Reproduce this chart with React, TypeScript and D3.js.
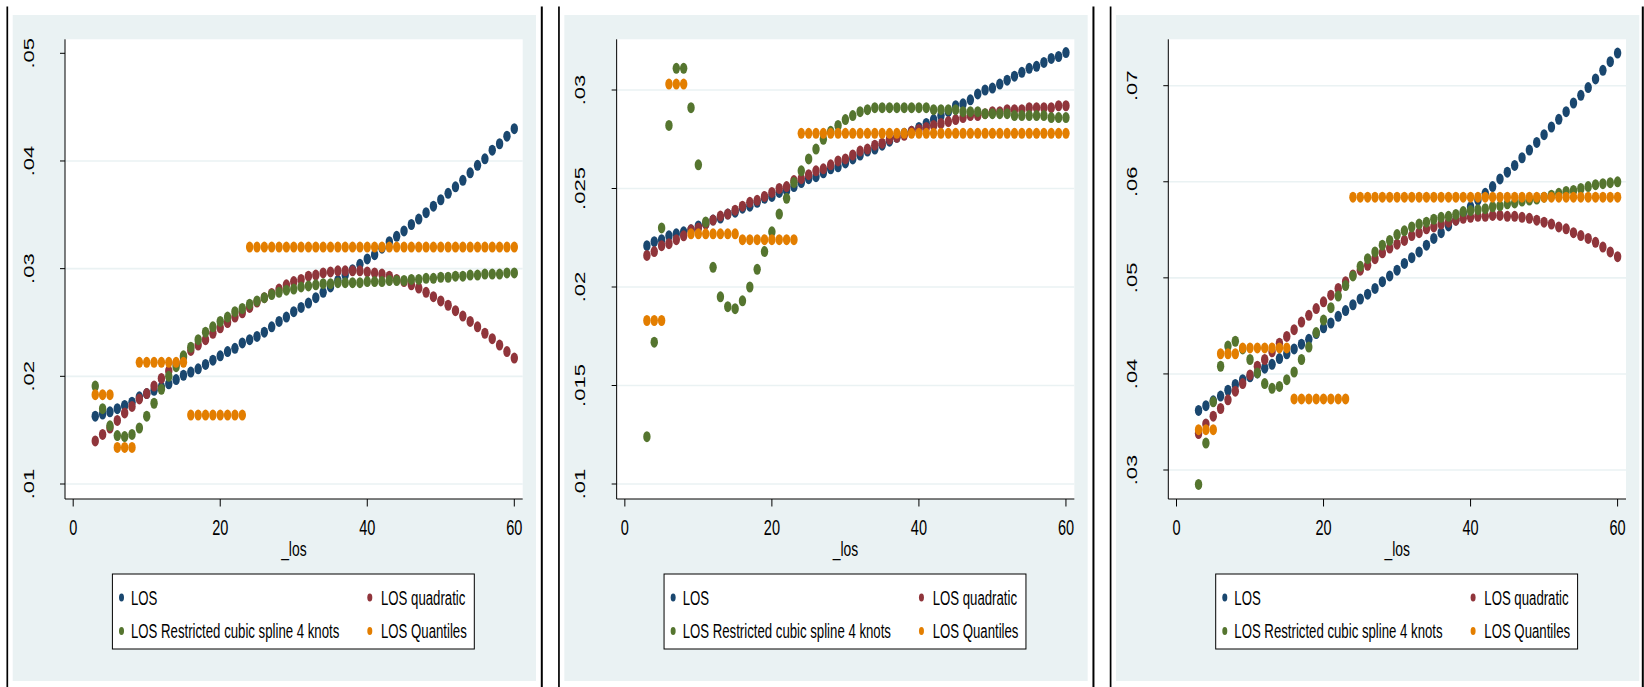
import React from "react";
import * as d3 from "d3";

// length of stay (days) on the x axis
const days = [
  3, 4, 5, 6, 7, 8, 9, 10, 11, 12, 13, 14, 15, 16, 17, 18, 19, 20, 21, 22, 23, 24, 25, 26, 27, 28, 29, 30, 31,
  32, 33, 34, 35, 36, 37, 38, 39, 40, 41, 42, 43, 44, 45, 46, 47, 48, 49, 50, 51, 52, 53, 54, 55, 56, 57, 58,
  59, 60,
];

// panel 1
const losP1 = [
  0.0163, 0.0165, 0.0167, 0.017, 0.0173, 0.0176, 0.0181, 0.0184, 0.0187, 0.019, 0.0193, 0.0197, 0.0201, 0.0204,
  0.0207, 0.0211, 0.0215, 0.0219, 0.0223, 0.0226, 0.0231, 0.0234, 0.0237, 0.0241, 0.0246, 0.0251, 0.0255, 0.026,
  0.0264, 0.0268, 0.0273, 0.0278, 0.0283, 0.0289, 0.0294, 0.0299, 0.0304, 0.0309, 0.0313, 0.0319, 0.0325, 0.033,
  0.0335, 0.0341, 0.0346, 0.0352, 0.0358, 0.0364, 0.037, 0.0376, 0.0382, 0.0389, 0.0396, 0.0402, 0.041, 0.0416,
  0.0423, 0.043,
];
const quadP1 = [
  0.014, 0.0146, 0.0152, 0.0159, 0.0166, 0.0172, 0.0179, 0.0184, 0.0191, 0.0198, 0.0205, 0.0212, 0.0218, 0.0224,
  0.0229, 0.0234, 0.024, 0.0245, 0.025, 0.0255, 0.0259, 0.0264, 0.0269, 0.0273, 0.0277, 0.0281, 0.0285, 0.0288,
  0.029, 0.0293, 0.0294, 0.0296, 0.0297, 0.0298, 0.0298, 0.0298, 0.0298, 0.0297, 0.0296, 0.0295, 0.0293, 0.029,
  0.0288, 0.0285, 0.0282, 0.0278, 0.0274, 0.027, 0.0266, 0.0261, 0.0256, 0.0251, 0.0246, 0.024, 0.0235, 0.0229,
  0.0223, 0.0217,
];
const splineP1 = [
  0.0191, 0.017, 0.0154, 0.0145, 0.0144, 0.0146, 0.0152, 0.0163, 0.0175, 0.0188, 0.02, 0.0209, 0.0219, 0.0227,
  0.0234, 0.0241, 0.0246, 0.0251, 0.0255, 0.026, 0.0263, 0.0267, 0.027, 0.0273, 0.0276, 0.0278, 0.028, 0.0281,
  0.0283, 0.0284, 0.0285, 0.0286, 0.0286, 0.0287, 0.0287, 0.0287, 0.0287, 0.0288, 0.0288, 0.0288, 0.0289, 0.0289,
  0.0289, 0.029, 0.029, 0.0291, 0.0291, 0.0292, 0.0292, 0.0293, 0.0293, 0.0294, 0.0294, 0.0295, 0.0295, 0.0295,
  0.0296, 0.0296,
];
const quantP1 = [
  0.0183, 0.0183, 0.0183, 0.0134, 0.0134, 0.0134, 0.0213, 0.0213, 0.0213, 0.0213, 0.0213, 0.0213, 0.0213, 0.0164,
  0.0164, 0.0164, 0.0164, 0.0164, 0.0164, 0.0164, 0.0164, 0.032, 0.032, 0.032, 0.032, 0.032, 0.032, 0.032, 0.032,
  0.032, 0.032, 0.032, 0.032, 0.032, 0.032, 0.032, 0.032, 0.032, 0.032, 0.032, 0.032, 0.032, 0.032, 0.032, 0.032,
  0.032, 0.032, 0.032, 0.032, 0.032, 0.032, 0.032, 0.032, 0.032, 0.032, 0.032, 0.032, 0.032,
];

// panel 2
const losP2 = [
  0.0221, 0.0223, 0.0224, 0.0226, 0.0227, 0.0228, 0.0229, 0.0231, 0.0232, 0.0234, 0.0235, 0.0237, 0.0238, 0.024,
  0.0241, 0.0243, 0.0245, 0.0246, 0.0248, 0.0249, 0.0251, 0.0253, 0.0255, 0.0256, 0.0258, 0.026, 0.0261, 0.0263,
  0.0265, 0.0267, 0.0269, 0.027, 0.0272, 0.0274, 0.0276, 0.0278, 0.0279, 0.0281, 0.0283, 0.0285, 0.0287, 0.0289,
  0.0292, 0.0293, 0.0295, 0.0298, 0.03, 0.0301, 0.0303, 0.0305, 0.0307, 0.0309, 0.0311, 0.0312, 0.0314, 0.0316,
  0.0317, 0.0319,
];
const quadP2 = [
  0.0216, 0.0218, 0.0221, 0.0222, 0.0224, 0.0226, 0.0229, 0.023, 0.0232, 0.0234, 0.0236, 0.0237, 0.0239, 0.0241,
  0.0243, 0.0244, 0.0246, 0.0248, 0.025, 0.0251, 0.0254, 0.0255, 0.0257, 0.0259, 0.026, 0.0262, 0.0264, 0.0265,
  0.0267, 0.0269, 0.027, 0.0272, 0.0273, 0.0275, 0.0276, 0.0277, 0.0279, 0.028, 0.0281, 0.0282, 0.0283, 0.0284,
  0.0285, 0.0286, 0.0287, 0.0287, 0.0288, 0.0289, 0.0289, 0.029, 0.029, 0.029, 0.0291, 0.0291, 0.0291, 0.0291,
  0.0292, 0.0292,
];
const splineP2 = [
  0.0124, 0.0172, 0.023, 0.0282, 0.0311, 0.0311, 0.0291, 0.0262, 0.0233, 0.021, 0.0195, 0.019, 0.0189, 0.0193,
  0.02, 0.0209, 0.0218, 0.0228, 0.0237, 0.0245, 0.0253, 0.0259, 0.0265, 0.027, 0.0275, 0.0279, 0.0282, 0.0285,
  0.0287, 0.0289, 0.029, 0.0291, 0.0291, 0.0291, 0.0291, 0.0291, 0.0291, 0.0291, 0.0291, 0.029, 0.029, 0.029,
  0.029, 0.0289, 0.0289, 0.0289, 0.0288, 0.0288, 0.0288, 0.0288, 0.0287, 0.0287, 0.0287, 0.0287, 0.0287, 0.0286,
  0.0286, 0.0286,
];
const quantP2 = [
  0.0183, 0.0183, 0.0183, 0.0303, 0.0303, 0.0303, 0.0227, 0.0227, 0.0227, 0.0227, 0.0227, 0.0227, 0.0227, 0.0224,
  0.0224, 0.0224, 0.0224, 0.0224, 0.0224, 0.0224, 0.0224, 0.0278, 0.0278, 0.0278, 0.0278, 0.0278, 0.0278, 0.0278,
  0.0278, 0.0278, 0.0278, 0.0278, 0.0278, 0.0278, 0.0278, 0.0278, 0.0278, 0.0278, 0.0278, 0.0278, 0.0278, 0.0278,
  0.0278, 0.0278, 0.0278, 0.0278, 0.0278, 0.0278, 0.0278, 0.0278, 0.0278, 0.0278, 0.0278, 0.0278, 0.0278, 0.0278,
  0.0278, 0.0278,
];

// panel 3
const losP3 = [
  0.0362, 0.0367, 0.0372, 0.0377, 0.0383, 0.0389, 0.0394, 0.0397, 0.0401, 0.0406, 0.041, 0.0416, 0.0421, 0.0426,
  0.0431, 0.0436, 0.0442, 0.0448, 0.0453, 0.046, 0.0466, 0.0472, 0.0478, 0.0483, 0.0489, 0.0496, 0.0502, 0.0508,
  0.0515, 0.0521, 0.0527, 0.0534, 0.0541, 0.0547, 0.0554, 0.056, 0.0567, 0.0574, 0.0581, 0.0588, 0.0595, 0.0603,
  0.061, 0.0617, 0.0625, 0.0633, 0.0641, 0.0649, 0.0657, 0.0665, 0.0673, 0.0682, 0.069, 0.0698, 0.0707, 0.0716,
  0.0725, 0.0734,
];
const quadP3 = [
  0.0338, 0.0348, 0.0356, 0.0364, 0.0373, 0.0382, 0.039, 0.0399, 0.0408, 0.0415, 0.0423, 0.0432, 0.0439, 0.0446,
  0.0454, 0.0461, 0.0468, 0.0475, 0.0482, 0.0489, 0.0496, 0.0503, 0.0508, 0.0513, 0.052, 0.0526, 0.0531, 0.0535,
  0.0539, 0.0544, 0.0547, 0.0551, 0.0553, 0.0556, 0.0558, 0.056, 0.0562, 0.0563, 0.0564, 0.0564, 0.0565, 0.0565,
  0.0564, 0.0564, 0.0563, 0.0562, 0.056, 0.0558, 0.0556, 0.0553, 0.0551, 0.0547, 0.0544, 0.0541, 0.0537, 0.0532,
  0.0527, 0.0522,
];
const splineP3 = [
  0.0285, 0.0328, 0.0371, 0.0408, 0.0429, 0.0434, 0.0426, 0.0415, 0.0401, 0.039, 0.0385, 0.0387, 0.0394, 0.0402,
  0.0415, 0.0428, 0.0443, 0.0456, 0.0469, 0.0481, 0.0492, 0.0502, 0.0512, 0.052, 0.0527, 0.0534, 0.0539, 0.0545,
  0.0549, 0.0553, 0.0556, 0.0558, 0.0561, 0.0563, 0.0564, 0.0566, 0.0569, 0.057, 0.0571, 0.0572, 0.0574, 0.0575,
  0.0577, 0.0578, 0.058, 0.0581, 0.0582, 0.0584, 0.0586, 0.0588, 0.059, 0.0591, 0.0593, 0.0595, 0.0597, 0.0598,
  0.0599, 0.06,
];
const quantP3 = [
  0.0342, 0.0342, 0.0342, 0.0421, 0.0421, 0.0421, 0.0427, 0.0427, 0.0427, 0.0427, 0.0427, 0.0427, 0.0427, 0.0374,
  0.0374, 0.0374, 0.0374, 0.0374, 0.0374, 0.0374, 0.0374, 0.0584, 0.0584, 0.0584, 0.0584, 0.0584, 0.0584, 0.0584,
  0.0584, 0.0584, 0.0584, 0.0584, 0.0584, 0.0584, 0.0584, 0.0584, 0.0584, 0.0584, 0.0584, 0.0584, 0.0584, 0.0584,
  0.0584, 0.0584, 0.0584, 0.0584, 0.0584, 0.0584, 0.0584, 0.0584, 0.0584, 0.0584, 0.0584, 0.0584, 0.0584, 0.0584,
  0.0584, 0.0584,
];

// axes
const xTicks = [0, 20, 40, 60];
const yTicksP1 = [0.01, 0.02, 0.03, 0.04, 0.05];
const yLabelsP1 = [".01", ".02", ".03", ".04", ".05"];
const gridP1 = [0.01, 0.02, 0.03, 0.04];
const yTicksP2 = [0.01, 0.015, 0.02, 0.025, 0.03];
const yLabelsP2 = [".01", ".015", ".02", ".025", ".03"];
const gridP2 = [0.01, 0.015, 0.02, 0.025, 0.03];
const yTicksP3 = [0.03, 0.04, 0.05, 0.06, 0.07];
const yLabelsP3 = [".03", ".04", ".05", ".06", ".07"];
const gridP3 = [0.03, 0.04, 0.05, 0.06, 0.07];

const legendLabels = ["LOS", "LOS quadratic", "LOS Restricted cubic spline 4 knots", "LOS Quantiles"];
const seriesColors = ["#1a476f", "#90353b", "#55752f", "#e37e00"];

const BG = "#eaf2f3";
const SX = 0.66; // the whole graph is squeezed horizontally
const FONT = "'Liberation Sans', Arial, Helvetica, sans-serif";
const STEP = 551.65;

const plot = { x0: 65, x1: 522.7, y0: 39.3, y1: 499 };

function SqText({ x, y, size, anchor = "middle", rotate = 0, children }) {
  const rot = rotate ? ` rotate(${rotate})` : "";
  return (
    <text
      transform={`translate(${x},${y}) scale(${SX},1)${rot}`}
      fontSize={size}
      textAnchor={anchor}
      fill="#000"
    >
      {children}
    </text>
  );
}

function Panel({ left, series, yTicks, yLabels, grid, yPix, rightEdge }) {
  const x = d3.scaleLinear().domain([0, 60]).range([73.2, 514.3]);
  const y = d3
    .scaleLinear()
    .domain([yTicks[0], yTicks[yTicks.length - 1]])
    .range(yPix);

  const legendCols = [121.5, 369.8];
  const legendRows = [597.5, 631];
  const legendTextX = [131, 381];
  const legendBase = [604.5, 638.2];

  const rightLine = Math.min(left + 541.8, rightEdge) - left;

  return (
    <g transform={`translate(${left},0)`}>
      <rect x={12.7} y={15} width={536 - 12.7} height={681 - 15} fill={BG} />
      <line x1={7.3} x2={7.3} y1={6.5} y2={687} stroke="#000" strokeWidth={1.7} />
      <line x1={rightLine} x2={rightLine} y1={6.5} y2={687} stroke="#000" strokeWidth={2} />

      <rect x={plot.x0} y={plot.y0} width={plot.x1 - plot.x0} height={plot.y1 - plot.y0} fill="#fff" />
      {grid.map((v) => (
        <line key={v} x1={plot.x0} x2={plot.x1} y1={y(v)} y2={y(v)} stroke={BG} strokeWidth={1.6} />
      ))}

      {series.map((vals, si) => (
        <g key={si} fill={seriesColors[si]}>
          {vals.map((v, i) => (
            <ellipse key={i} cx={x(days[i])} cy={y(v)} rx={3.7} ry={5.5} />
          ))}
        </g>
      ))}

      {/* y axis */}
      <line x1={plot.x0} x2={plot.x0} y1={plot.y0} y2={plot.y1} stroke="#000" strokeWidth={1} />
      {yTicks.map((v, i) => (
        <g key={v}>
          <line x1={plot.x0 - 5} x2={plot.x0} y1={y(v)} y2={y(v)} stroke="#000" strokeWidth={1} />
          <SqText x={33.5} y={y(v)} size={22} rotate={-90}>
            {yLabels[i]}
          </SqText>
        </g>
      ))}

      {/* x axis */}
      <line x1={plot.x0} x2={plot.x1} y1={plot.y1} y2={plot.y1} stroke="#000" strokeWidth={1} />
      {xTicks.map((t) => (
        <g key={t}>
          <line x1={x(t)} x2={x(t)} y1={plot.y1} y2={plot.y1 + 7.5} stroke="#000" strokeWidth={1} />
          <SqText x={x(t)} y={535} size={22}>
            {String(t)}
          </SqText>
        </g>
      ))}
      <SqText x={(plot.x0 + plot.x1) / 2} y={556} size={21}>
        _los
      </SqText>

      {/* legend */}
      <rect x={112.4} y={574} width={474.3 - 112.4} height={649 - 574} fill="#fff" stroke="#000" strokeWidth={1} />
      {legendLabels.map((lab, i) => {
        const c = i % 2;
        const r = Math.floor(i / 2);
        return (
          <g key={lab}>
            <ellipse cx={legendCols[c]} cy={legendRows[r]} rx={2.5} ry={3.9} fill={seriesColors[i]} />
            <SqText x={legendTextX[c]} y={legendBase[r]} size={20} anchor="start">
              {lab}
            </SqText>
          </g>
        );
      })}
    </g>
  );
}

export default function App() {
  const W = 1644;
  const H = 687;
  const panels = [
    { series: [losP1, quadP1, splineP1, quantP1], yTicks: yTicksP1, yLabels: yLabelsP1, grid: gridP1, yPix: [484, 53.3] },
    { series: [losP2, quadP2, splineP2, quantP2], yTicks: yTicksP2, yLabels: yLabelsP2, grid: gridP2, yPix: [484, 90] },
    { series: [losP3, quadP3, splineP3, quantP3], yTicks: yTicksP3, yLabels: yLabelsP3, grid: gridP3, yPix: [470, 85.7] },
  ];
  return (
    <svg
      width={W}
      height={H}
      style={{ position: "absolute", left: 0, top: 0, display: "block", background: "#fff" }}
      fontFamily={FONT}
    >
      <rect width={W} height={H} fill="#fff" />
      {panels.map((p, i) => (
        <Panel key={i} left={i * STEP} rightEdge={1642.8} {...p} />
      ))}
    </svg>
  );
}
